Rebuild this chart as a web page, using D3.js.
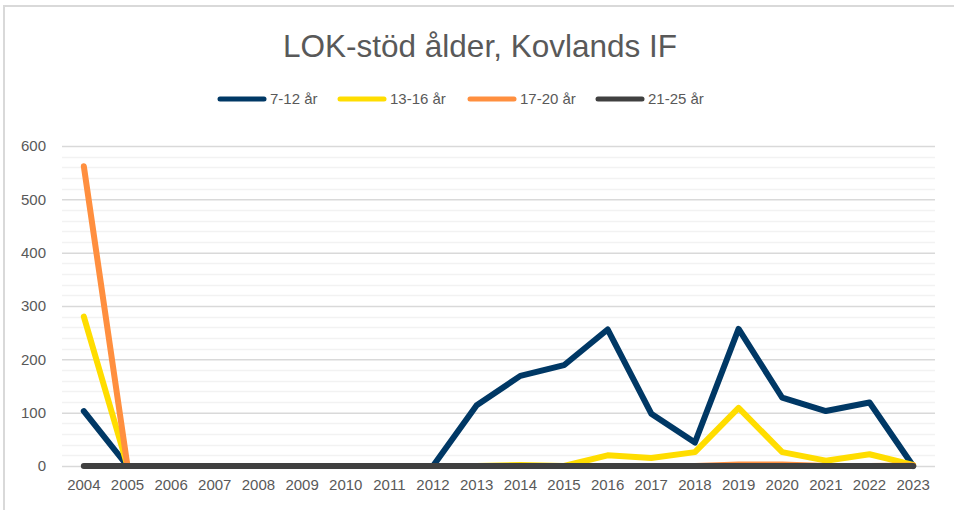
<!DOCTYPE html>
<html>
<head>
<meta charset="utf-8">
<script src="https://cdn.jsdelivr.net/npm/d3@7"></script>
<style>
	body { margin: 0; background: #fff; }
	text { font-family: 'Liberation Sans', Arial, sans-serif; fill: #595959; }
</style>
</head>
<body>
<script>
const w = 954;
const h = 510;
const margin = { top: 146, bottom: 44, left: 62, right: 19 };

const years = ['2004', '2005', '2006', '2007', '2008', '2009', '2010', '2011', '2012', '2013',
	'2014', '2015', '2016', '2017', '2018', '2019', '2020', '2021', '2022', '2023'];
const age7to12 = [103, 0, 0, 0, 0, 0, 0, 0, 0, 114, 169, 189, 256, 98, 44, 257, 128, 103, 119, 0];
const age13to16 = [280, 0, 0, 0, 0, 0, 0, 0, 0, 0, 2, 0, 20, 15, 26, 109, 26, 10, 22, 2];
const age17to20 = [562, 0, 0, 0, 0, 0, 0, 0, 0, 0, 0, 0, 0, 0, 0, 3, 3, 0, 0, 1];
const age21to25 = [0, 0, 0, 0, 0, 0, 0, 0, 0, 0, 0, 0, 0, 0, 0, 0, 0, 0, 0, 0];
const seriesNames = ['7-12 år', '13-16 år', '17-20 år', '21-25 år'];
const colors = ['#003865', '#FFDD00', '#FF8F3F', '#404040'];
const yTicks = [0, 100, 200, 300, 400, 500, 600];

const series = [age7to12, age13to16, age17to20, age21to25];

const svg = d3.select('body').append('svg').attr('width', w).attr('height', h);

// chart border (only top/left visible in frame)
svg.append('rect')
	.attr('x', 4).attr('y', 6)
	.attr('width', w + 10).attr('height', h + 10)
	.attr('fill', 'none').attr('stroke', '#d9d9d9').attr('stroke-width', 2);

let x = d3.scaleBand().domain(years).range([ margin.left, w - margin.right ]);
let y = d3.scaleLinear().domain([ 0, 600 ]).range([ h - margin.bottom, margin.top ]);

// minor gridlines every 20
svg.append('g')
	.selectAll('line')
	.data(d3.range(0, 601, 20).filter(function(v) { return v % 100 !== 0; }))
	.enter()
	.append('line')
	.attr('x1', margin.left).attr('x2', w - margin.right)
	.attr('y1', function(d) { return Math.round(y(d)) + 0.5; })
	.attr('y2', function(d) { return Math.round(y(d)) + 0.5; })
	.attr('stroke', '#f2f2f2').attr('stroke-width', 1.5);

// major gridlines
const yAxis = d3.axisLeft(y).tickValues(yTicks).tickSize(-(w - margin.left - margin.right)).tickPadding(16);
svg.append('g')
	.attr('transform', 'translate(' + margin.left + ',0)')
	.call(yAxis)
	.call(function(g) {
		g.select('.domain').remove();
		g.selectAll('.tick line').attr('stroke', '#d9d9d9').attr('stroke-width', 1.5);
		g.selectAll('.tick text').style('font-size', '15px').attr('fill', '#595959');
	});

const xAxis = d3.axisBottom(x).tickSize(0).tickPadding(13);
svg.append('g')
	.attr('transform', 'translate(0,' + (h - margin.bottom) + ')')
	.call(xAxis)
	.call(function(g) {
		g.select('.domain').remove();
		g.selectAll('.tick text').style('font-size', '15px').attr('fill', '#595959');
	});

const line = d3.line()
	.x(function(d, i) { return x(years[i]) + x.bandwidth() / 2; })
	.y(function(d) { return y(d); });

svg.selectAll('.series')
	.data(series)
	.enter()
	.append('path')
	.attr('class', 'series')
	.attr('d', line)
	.attr('fill', 'none')
	.attr('stroke', function(d, i) { return colors[i]; })
	.attr('stroke-width', 6)
	.attr('stroke-linejoin', 'round')
	.attr('stroke-linecap', 'round');

// title
svg.append('text')
	.attr('x', 480).attr('y', 57)
	.attr('text-anchor', 'middle')
	.style('font-size', '31.5px')
	.text('LOK-stöd ålder, Kovlands IF');

// legend
const legendX = [220, 340, 470, 598];
const legend = svg.selectAll('.legend')
	.data(seriesNames)
	.enter()
	.append('g')
	.attr('class', 'legend')
	.attr('transform', function(d, i) { return 'translate(' + legendX[i] + ',99)'; });

legend.append('line')
	.attr('x1', 0).attr('x2', 44)
	.attr('stroke', function(d, i) { return colors[i]; })
	.attr('stroke-width', 5)
	.attr('stroke-linecap', 'round');

legend.append('text')
	.attr('x', 50).attr('y', 5)
	.style('font-size', '15px')
	.text(function(d) { return d; });
</script>
</body>
</html>
